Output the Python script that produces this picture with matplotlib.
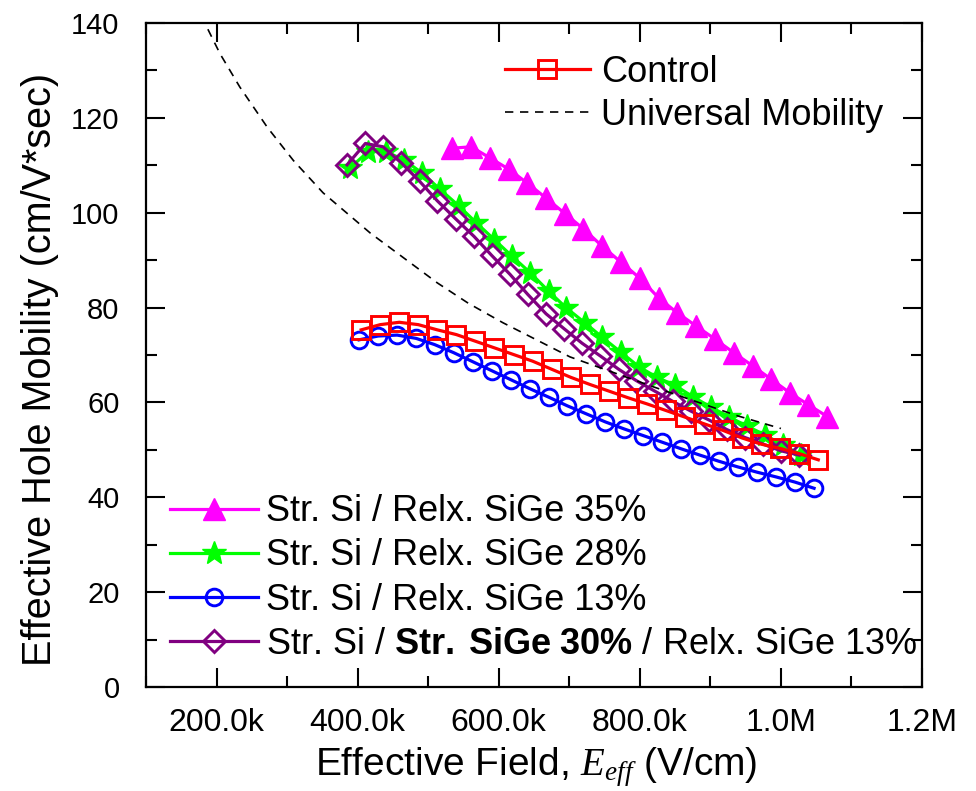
import matplotlib
matplotlib.use("Agg")
import matplotlib.pyplot as plt
from matplotlib.ticker import MultipleLocator

plt.rcParams['font.family'] = ['Liberation Sans', 'DejaVu Sans']
plt.rcParams['mathtext.fontset'] = 'custom'
plt.rcParams['mathtext.rm'] = 'Liberation Sans'
plt.rcParams['mathtext.bf'] = 'Liberation Sans:bold'
plt.rcParams['mathtext.it'] = 'Liberation Serif:italic'

# ---------------- data (field in kV/cm, mobility in cm2/V*s) ----------------
control_field = [405, 432, 459, 486, 513, 540, 567, 594, 621, 648, 675, 702, 729,
                 756, 783, 810, 837, 864, 891, 918, 945, 972, 999, 1026, 1053]
control_mob = [75.3, 76.4, 76.9, 76.4, 75.3, 74.3, 72.9, 71.5, 70.1, 68.7, 67.0, 65.3,
               63.8, 62.4, 61.0, 59.7, 58.3, 56.9, 55.5, 54.1, 52.5, 51.2, 50.3, 49.2, 47.9]

universal_field = [178, 186, 205, 233, 272, 309, 351, 418, 513, 557, 606, 701, 819, 938, 1000]
universal_mob = [141.5, 139.2, 133.5, 126.5, 118.0, 111.0, 104.2, 95.7, 85.2, 80.9,
                 76.8, 69.6, 63.3, 57.2, 54.5]

sige35_field = [534, 561, 587, 614, 640, 667, 694, 720, 747, 773, 800, 827, 853, 880,
                906, 933, 960, 986, 1013, 1039, 1066]
sige35_mob = [113.6, 113.9, 111.6, 109.2, 106.3, 103.1, 99.8, 96.6, 92.9, 89.6, 86.2,
              82.0, 78.9, 76.1, 73.4, 70.5, 67.7, 64.9, 62.0, 59.5, 57.0]

sige28_field = [389, 415, 440, 466, 491, 517, 543, 568, 594, 619, 645, 671, 696, 722,
                747, 773, 799, 824, 850, 875, 901, 927, 952, 978, 1003, 1029]
sige28_mob = [109.4, 112.9, 112.9, 111.1, 108.4, 104.9, 101.5, 97.9, 94.3, 90.8, 87.3,
              83.4, 79.9, 76.8, 73.7, 70.6, 67.5, 65.3, 63.6, 61.2, 59.0, 56.9, 55.0,
              53.1, 51.0, 48.9]

sige13_field = [402, 429, 456, 483, 509, 536, 563, 590, 617, 644, 671, 697, 724, 751,
                778, 805, 832, 859, 885, 912, 939, 966, 993, 1020, 1047]
sige13_mob = [73.2, 74.0, 74.2, 73.5, 72.2, 70.5, 68.6, 66.7, 64.8, 62.9, 61.1, 59.3,
              57.6, 55.9, 54.4, 53.0, 51.6, 50.2, 48.9, 47.6, 46.4, 45.3, 44.3, 43.2, 41.9]

strsige_field = [385, 411, 436, 462, 488, 513, 539, 565, 590, 616, 641, 667, 693, 718,
                 744, 770, 795, 821, 847, 872, 898, 923, 949, 975, 1000, 1026]
strsige_mob = [110.1, 114.6, 113.9, 110.5, 106.6, 102.5, 98.7, 95.0, 91.0, 87.0, 82.8,
               78.7, 75.5, 72.5, 69.8, 67.0, 64.6, 62.4, 60.2, 58.2, 56.3, 54.3, 52.6,
               51.2, 49.8, 48.9]

x_ticks = [200e3, 400e3, 600e3, 800e3, 1000e3, 1200e3]
x_tick_labels = ['200.0k', '400.0k', '600.0k', '800.0k', '1.0M', '1.2M']
y_ticks = [0, 20, 40, 60, 80, 100, 120, 140]

labels = ['Control', 'Universal Mobility',
          'Str. Si / Relx. SiGe 35%', 'Str. Si / Relx. SiGe 28%',
          'Str. Si / Relx. SiGe 13%',
          r'Str. Si / $\mathbf{Str.\ SiGe\ 30\%}$ / Relx. SiGe 13%']


def kv(vals):
    return [v * 1e3 for v in vals]


# ---------------- figure ----------------
W, H = 976, 791
fig = plt.figure(figsize=(W / 100, H / 100), dpi=100)
L, R, T, B = 146, 922, 23, 687
ax = fig.add_axes([L / W, 1 - B / H, (R - L) / W, (B - T) / H])

lw = 2.3
mew = 2.1
h35, = ax.plot(kv(sige35_field), sige35_mob, color='#FF00FF', lw=lw, marker='^',
               ms=16.5, mec='#FF00FF', mfc='#FF00FF', mew=1)
h28, = ax.plot(kv(sige28_field), sige28_mob, color='#00FF00', lw=lw, marker='*',
               ms=18, mec='#00FF00', mfc='#00FF00', mew=1)
h13, = ax.plot(kv(sige13_field), sige13_mob, color='#0000FF', lw=lw, marker='o',
               ms=12, mec='#0000FF', mfc='none', mew=mew)
hst, = ax.plot(kv(strsige_field), strsige_mob, color='#800080', lw=lw, marker='D',
               ms=11, mec='#800080', mfc='none', mew=mew)
hun, = ax.plot(kv(universal_field), universal_mob, color='black', lw=1.2,
               linestyle=(0, (5, 4)))
hct, = ax.plot(kv(control_field), control_mob, color='#FF0000', lw=lw, marker='s',
               ms=12.5, mec='#FF0000', mfc='none', mew=mew)

ax.set_xlim(100e3, 1200e3)
ax.set_ylim(0, 140)
ax.set_xticks(x_ticks)
ax.set_xticklabels(x_tick_labels)
ax.set_yticks(y_ticks)
ax.xaxis.set_minor_locator(MultipleLocator(100e3))
ax.yaxis.set_minor_locator(MultipleLocator(10))

for s in ax.spines.values():
    s.set_linewidth(1.6)
ax.tick_params(which='both', direction='in', top=True, right=True, width=1.5)
ax.tick_params(which='major', length=14)
ax.tick_params(which='minor', length=8)
ax.tick_params(axis='x', which='major', labelsize=23, pad=15)
ax.tick_params(axis='y', which='major', labelsize=21, pad=19)

ax.set_xlabel(r'Effective Field, $E_{eff}$ (V/cm)', fontsize=28, va='baseline')
ax.xaxis.set_label_coords(0.503, (B - 775) / (B - T))
ax.set_ylabel('Effective Hole Mobility (cm/V*sec)', fontsize=28.5, va='center')
ax.yaxis.set_label_coords((40 - L) / (R - L), (B - 369) / (B - T))

leg1 = ax.legend([hct, hun], labels[:2], loc='center left',
                 bbox_to_anchor=(505 / W, 1 - 94 / H), bbox_transform=fig.transFigure,
                 frameon=False, fontsize=26, handlelength=2.35, handletextpad=0.3,
                 borderpad=0, borderaxespad=0, labelspacing=0.22, numpoints=1)
ax.add_artist(leg1)
ax.legend([h35, h28, h13, hst], labels[2:], loc='center left',
          bbox_to_anchor=(170 / W, 1 - 578 / H), bbox_transform=fig.transFigure,
          frameon=False, fontsize=26, handlelength=2.45, handletextpad=0.22,
          borderpad=0, borderaxespad=0, labelspacing=0.25, numpoints=1)

fig.savefig('out.png', dpi=100)
